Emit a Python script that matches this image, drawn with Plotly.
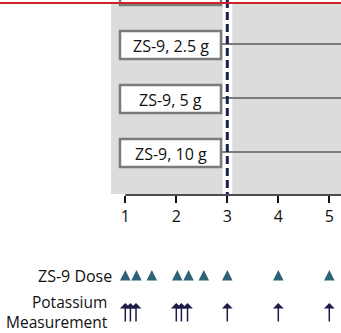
import plotly.graph_objects as go

# ---- data ----
tick_days = [1, 2, 3, 4, 5]
dose_days = [1.0, 1.22, 1.52, 2.02, 2.24, 2.54, 3.0, 4.0, 5.0]
potassium_days = [1.0, 1.1, 1.21, 2.0, 2.1, 2.22, 3.0, 4.0, 5.0]
group_labels = ["ZS-9, 1.25 g", "ZS-9, 2.5 g", "ZS-9, 5 g", "ZS-9, 10 g"]
randomization_day = 3

# ---- layout constants (pixel-like vertical scale) ----
W, H = 341, 333
PX_PER_DAY = 51.0
X_AT_TICK1 = 125.3
x_lo = 1 - X_AT_TICK1 / PX_PER_DAY
x_hi = 1 + (W - X_AT_TICK1) / PX_PER_DAY


def px2day(px):
    return 1 + (px - X_AT_TICK1) / PX_PER_DAY


AXIS_Y = 195
GRAY_TOP, GRAY_BOTTOM = 4, 194
ROW_CENTERS = [-9, 45, 99, 153]
BOX_HALF = 14
BOX_X0, BOX_X1 = px2day(120), px2day(221)
GRAY_L0, GRAY_L1 = px2day(111), px2day(222.7)
GRAY_R0 = px2day(232.3)
DOSE_ROW_Y = 270
ARROW_HEAD_Y, ARROW_TAIL_Y = 303, 323

FONT = "Open Sans"
GRAY = "#dcdcdc"
BOXLINE = "#7b7b7b"
NAVY = "#1c2050"
TEAL = "#2e6377"
ARROW = "#1c1c48"

fig = go.Figure()

shapes = []
shapes.append(dict(type="rect", xref="x", yref="y", x0=GRAY_L0, x1=GRAY_L1,
                   y0=GRAY_TOP, y1=GRAY_BOTTOM, fillcolor=GRAY, line=dict(width=0), layer="below"))
shapes.append(dict(type="rect", xref="x", yref="y", x0=GRAY_R0, x1=x_hi + 1,
                   y0=GRAY_TOP, y1=GRAY_BOTTOM, fillcolor=GRAY, line=dict(width=0), layer="below"))
for yc in ROW_CENTERS:
    shapes.append(dict(type="line", xref="x", yref="y", x0=BOX_X1, x1=x_hi + 1,
                       y0=yc - 1, y1=yc - 1, line=dict(color=BOXLINE, width=2)))
shapes.append(dict(type="line", xref="x", yref="y", x0=randomization_day, x1=randomization_day,
                   y0=0, y1=GRAY_BOTTOM, line=dict(color=NAVY, width=3, dash="8px,4px")))
for yc in ROW_CENTERS:
    shapes.append(dict(type="rect", xref="x", yref="y", x0=BOX_X0, x1=BOX_X1,
                       y0=yc - BOX_HALF, y1=yc + BOX_HALF, fillcolor="white",
                       line=dict(color=BOXLINE, width=2.5)))
shapes.append(dict(type="line", xref="x", yref="y", x0=tick_days[0], x1=x_hi + 1,
                   y0=AXIS_Y, y1=AXIS_Y, line=dict(color="#111111", width=1.5)))
shapes.append(dict(type="line", xref="paper", yref="y", x0=0, x1=1,
                   y0=3, y1=3, line=dict(color="#cc2229", width=2)))

annotations = []
for lab, yc in zip(group_labels, ROW_CENTERS):
    if yc < 0:
        continue
    annotations.append(dict(x=(BOX_X0 + BOX_X1) / 2, y=yc + 1, xref="x", yref="y",
                            text=lab, showarrow=False, xanchor="center", yanchor="middle",
                            font=dict(family=FONT, size=16, color="#111111")))
annotations.append(dict(x=114 / W, y=275.5, xref="paper", yref="y", text="ZS-9 Dose",
                        showarrow=False, xanchor="right", yanchor="middle",
                        font=dict(family=FONT, size=16, color="#111111")))
annotations.append(dict(x=110 / W, y=311.5, xref="paper", yref="y",
                        text="Potassium<br>Measurement", align="right",
                        showarrow=False, xanchor="right", yanchor="middle",
                        font=dict(family=FONT, size=15.5, color="#111111")))
for d in potassium_days:
    annotations.append(dict(x=d, y=ARROW_HEAD_Y, ax=d, ay=ARROW_TAIL_Y, xref="x", yref="y",
                            axref="x", ayref="y", text="", showarrow=True,
                            arrowhead=1, arrowsize=1.2, arrowwidth=1.5, arrowcolor=ARROW))

fig.add_trace(go.Scatter(x=dose_days, y=[DOSE_ROW_Y] * len(dose_days), mode="markers",
                         marker=dict(symbol="arrow-up", size=10.5, color=TEAL,
                                     line=dict(width=0)),
                         hoverinfo="skip", showlegend=False, cliponaxis=False))

fig.update_layout(
    width=W, height=H, margin=dict(l=0, r=0, t=0, b=0),
    paper_bgcolor="white", plot_bgcolor="white",
    shapes=shapes, annotations=annotations, showlegend=False,
    xaxis=dict(range=[x_lo, x_hi], tickvals=tick_days, ticktext=[str(t) for t in tick_days],
               ticks="outside", ticklen=7, tickwidth=1.5, tickcolor="#111111",
               showgrid=False, zeroline=False, showline=False,
               anchor="free", position=(H - AXIS_Y) / H,
               tickfont=dict(family=FONT, size=16, color="#111111")),
    yaxis=dict(range=[H, 0], domain=[0, 1], visible=False, showgrid=False, zeroline=False),
)

fig.write_html("out.html", config={"displayModeBar": False},
               post_script="document.body.style.margin='0';")
